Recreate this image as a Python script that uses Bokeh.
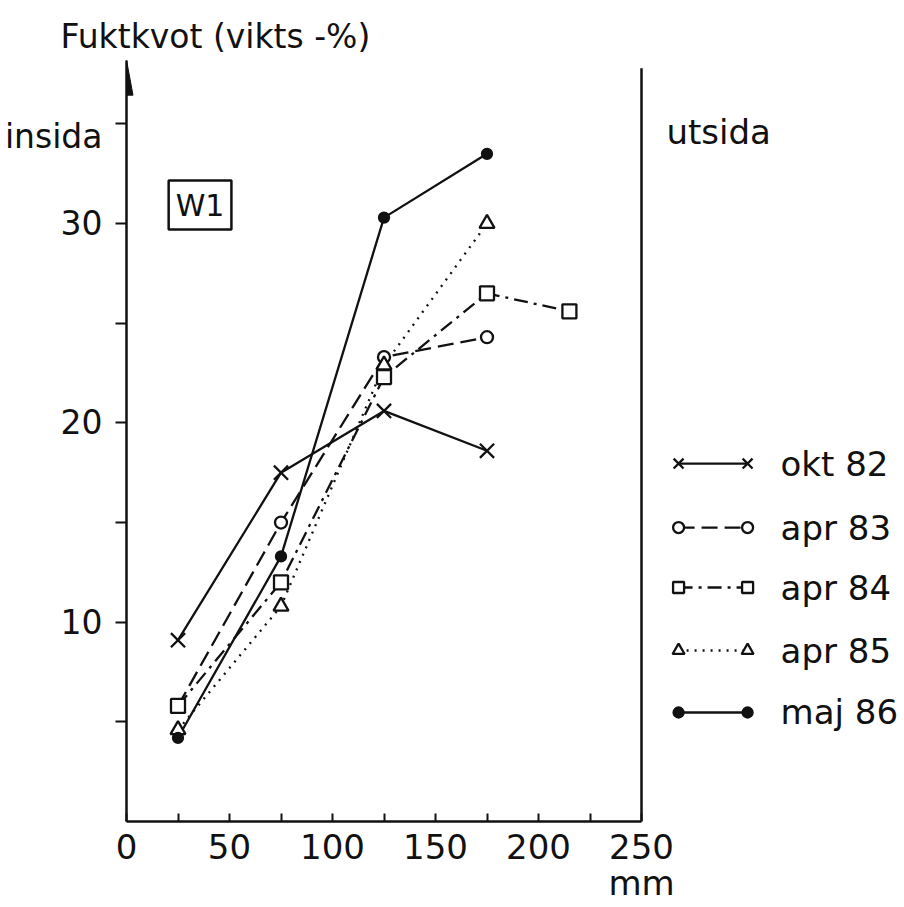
from bokeh.plotting import figure
from bokeh.models import LinearAxis, FixedTicker, Label
from bokeh.core.properties import value
from bokeh.embed import file_html
from bokeh.resources import INLINE

# ---------------- data ----------------
depth = [25, 75, 125, 175]              # mm from inside
depth_apr84 = [25, 75, 125, 175, 215]
okt82 = [9.1, 17.5, 20.6, 18.6]
apr83 = [5.8, 15.0, 23.3, 24.3]
apr84 = [5.8, 12.0, 22.3, 26.5, 25.6]
apr85 = [4.6, 10.8, 22.9, 30.0]
maj86 = [4.2, 13.3, 30.3, 33.5]
series_names = ["okt 82", "apr 83", "apr 84", "apr 85", "maj 86"]

x_ticks = [0, 50, 100, 150, 200, 250]
x_minor_ticks = [25, 75, 125, 175, 225]
x_unit = "mm"
y_ticks = [10, 20, 30]
y_minor_ticks = [5, 10, 15, 20, 25, 30, 35]
y_side_label = "insida"
y_title = "Fuktkvot (vikts -%)"

# ---------------- layout constants ----------------
FONT = "DejaVu Sans"
INK = "#111111"
W, H = 904, 907
LEFT, TOP, BOTTOM = 126, 55, 86
PX_X = 2.06                      # px per mm on the x axis
PX_Y = 19.93                     # px per % on the y axis
X_END = (W - LEFT) / PX_X
Y_END = (H - TOP - BOTTOM) / PX_Y
X_WALL = 250        # outside face of the wall
Y_AXIS_TOP = 38.2
Y_WALL_TOP = 37.8
Y_SIDE = 34.35      # where the "insida" note sits on the y axis

p = figure(width=W, height=H, x_range=(0, X_END), y_range=(0, Y_END),
           x_axis_type=None, y_axis_type=None, toolbar_location=None,
           output_backend="svg", min_border_left=LEFT, min_border_right=0,
           min_border_top=TOP, min_border_bottom=BOTTOM)
p.outline_line_color = None
p.background_fill_color = "white"
p.border_fill_color = "white"

p.title.text = y_title
p.title.align = "left"
p.title.offset = -66
p.title.standoff = 0
p.title.text_font = FONT
p.title.text_font_size = "33px"
p.title.text_font_style = "normal"
p.title.text_color = INK

# x axis
xaxis = LinearAxis(ticker=FixedTicker(ticks=x_ticks, minor_ticks=x_minor_ticks),
                   bounds=(0, X_WALL))
xaxis.major_label_overrides = {x_ticks[-1]: f"{x_ticks[-1]}\n{x_unit}"}
xaxis.axis_line_width = 2.5
xaxis.axis_line_color = INK
xaxis.major_tick_in = 8
xaxis.major_tick_out = 0
xaxis.minor_tick_in = 8
xaxis.minor_tick_out = 0
xaxis.major_tick_line_width = 2
xaxis.minor_tick_line_width = 2
xaxis.major_tick_line_color = INK
xaxis.minor_tick_line_color = INK
xaxis.major_label_text_font = FONT
xaxis.major_label_text_font_size = "34px"
xaxis.major_label_text_line_height = 0.92
xaxis.major_label_text_color = INK
xaxis.major_label_standoff = 5
p.add_layout(xaxis, "below")

# y axis (ticks drawn as minor ticks, labels on invisible major ticks)
yaxis = LinearAxis(ticker=FixedTicker(ticks=y_ticks + [Y_SIDE], minor_ticks=y_minor_ticks),
                   bounds=(0, Y_AXIS_TOP))
yaxis.major_label_overrides = {Y_SIDE: y_side_label}
yaxis.axis_line_width = 2.5
yaxis.axis_line_color = INK
yaxis.major_tick_in = 0
yaxis.major_tick_out = 11
yaxis.major_tick_line_color = None
yaxis.minor_tick_in = 0
yaxis.minor_tick_out = 11
yaxis.minor_tick_line_width = 2
yaxis.minor_tick_line_color = INK
yaxis.major_label_text_font = FONT
yaxis.major_label_text_font_size = "33px"
yaxis.major_label_text_color = INK
yaxis.major_label_standoff = 13
yaxis.major_label_orientation = "horizontal"
p.add_layout(yaxis, "left")

# arrow head on y axis
head_len = 35 / PX_Y
head_half = 6.5 / PX_X
p.patch(x=[-head_half, head_half, 0], y=[Y_AXIS_TOP - head_len, Y_AXIS_TOP - head_len, Y_AXIS_TOP],
        fill_color=INK, line_color=INK, line_width=1)

# wall outside line
p.line(x=[X_WALL, X_WALL], y=[0, Y_WALL_TOP], line_color=INK, line_width=2.5)

# ---------------- series ----------------
styles = [
    dict(x=depth, y=okt82, marker="x", size=20, fill="white", dash="solid", fill_alpha=0),
    dict(x=depth, y=apr83, marker="circle", size=12, fill="white", dash="16 7", fill_alpha=1),
    dict(x=depth_apr84, y=apr84, marker="square", size=14, fill="white", dash="14 6 3 6", fill_alpha=1),
    dict(x=depth, y=apr85, marker="triangle", size=15, fill="white", dash="2 6", fill_alpha=1),
    dict(x=depth, y=maj86, marker="circle", size=10, fill=INK, dash="solid", fill_alpha=1),
]
for st in styles:
    p.line(x=st["x"], y=st["y"], line_color=INK, line_width=2.3, line_dash=st["dash"])
for st in styles:
    p.scatter(x=st["x"], y=st["y"], marker=st["marker"], size=st["size"],
              fill_color=st["fill"], fill_alpha=st["fill_alpha"], line_color=INK, line_width=2.3)

# ---------------- legend ----------------
leg_y = [17.96, 14.75, 11.74, 8.58, 5.47]
leg_x0, leg_x1, leg_tx = 268, 301.5, 317.5
leg_sizes = [14, 11, 11, 12, 10]
for st, ly, ls in zip(styles, leg_y, leg_sizes):
    p.line(x=[leg_x0, leg_x1], y=[ly, ly], line_color=INK, line_width=2.3, line_dash=st["dash"])
    p.scatter(x=[leg_x0, leg_x1], y=[ly, ly], marker=st["marker"], size=ls,
              fill_color=st["fill"], fill_alpha=st["fill_alpha"], line_color=INK, line_width=2.3)
p.text(x=[leg_tx] * len(series_names), y=leg_y, text=series_names,
       text_font=value(FONT), text_font_size="34px", text_color=INK,
       text_baseline="middle", text_align="left")

# ---------------- labels inside the frame ----------------
p.add_layout(Label(x=262.1, y=34.6, text="utsida", text_font=FONT,
                   text_font_size="34px", text_color=INK, text_baseline="alphabetic"))
p.add_layout(Label(x=35.7, y=30.93, text="W1", text_font=FONT,
                   text_font_size="30px", text_color=INK, text_align="center",
                   text_baseline="middle", border_line_color=INK, border_line_width=2.5,
                   padding=7))

open("out.html", "w").write(file_html(p, INLINE))
